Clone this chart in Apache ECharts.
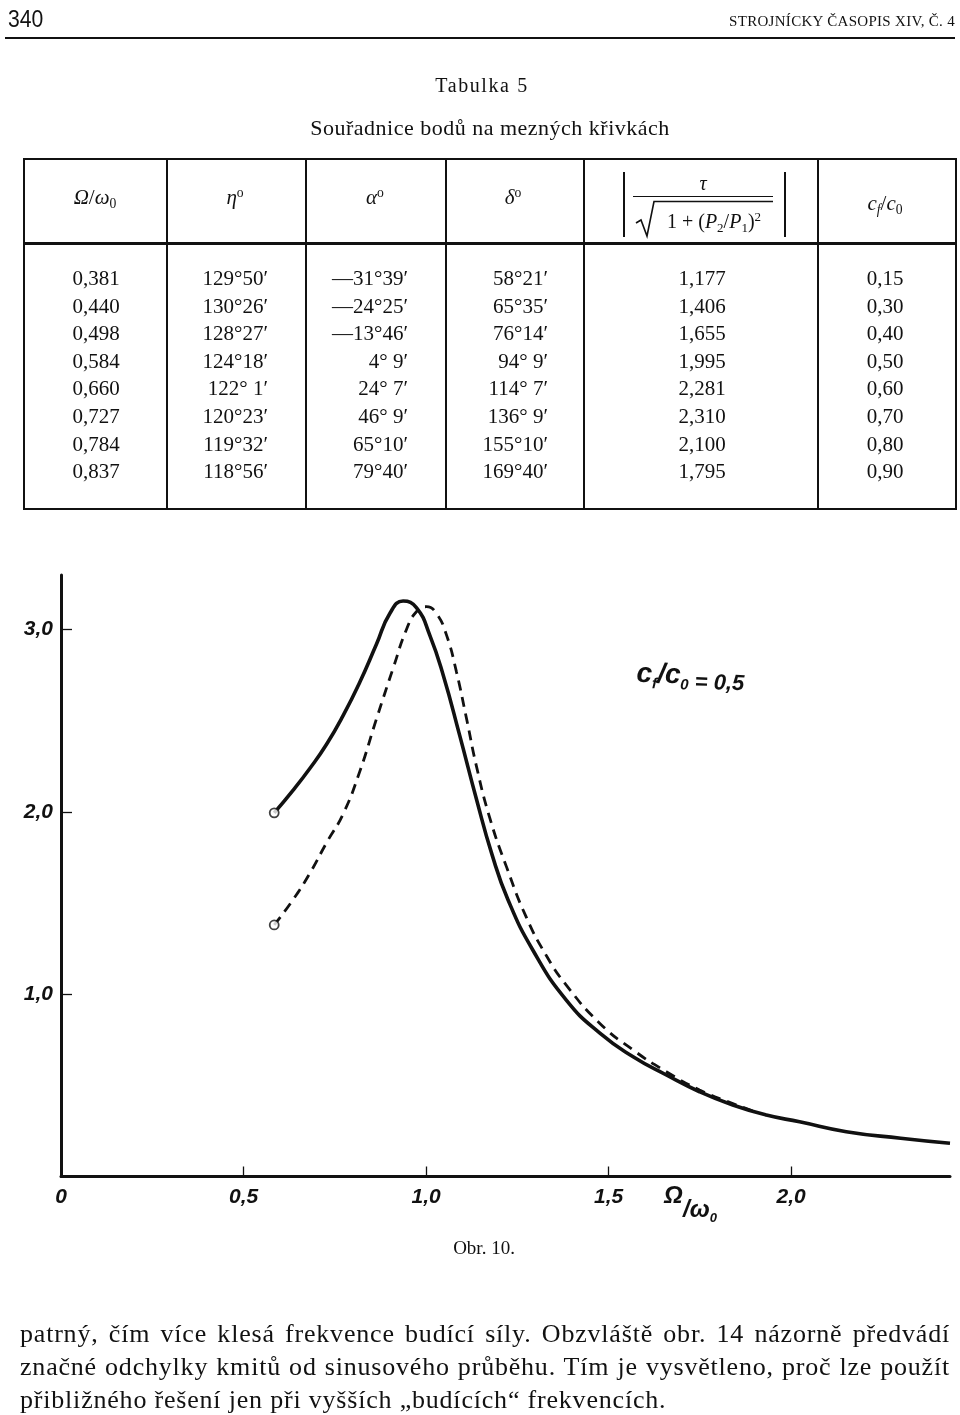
<!DOCTYPE html>
<html>
<head>
<meta charset="utf-8">
<script src="https://cdn.jsdelivr.net/npm/echarts@6/dist/echarts.min.js"></script>
<style>
  html, body { margin:0; padding:0; background:#fff; }
  body { width:960px; height:1415px; position:relative; overflow:hidden; font-family:"Liberation Serif", serif; color:#111; }
  #chart { position:absolute; left:0; top:0; width:960px; height:1415px; }
  #page { position:absolute; left:0; top:0; width:960px; height:1415px; }
  .t { position:absolute; white-space:pre; line-height:1; }
  .ln { position:absolute; background:#111; }
  sub { font-size:0.65em; vertical-align:-0.3em; }
  sup { font-size:0.65em; vertical-align:0.55em; }
  .para { position:absolute; left:20px; width:930px; font-size:26px; letter-spacing:0.8px; line-height:33px; white-space:nowrap; }
  .just { text-align:justify; text-align-last:justify; white-space:normal; }
</style>
</head>
<body>
<div id="chart"></div>
<div id="page"></div>
<script>
// ---------------- data ----------------
// Table 5
const tableOmega = ["0,381","0,440","0,498","0,584","0,660","0,727","0,784","0,837"];
const tableEta   = ["129°50′","130°26′","128°27′","124°18′","122° 1′","120°23′","119°32′","118°56′"];
const tableAlpha = ["—31°39′","—24°25′","—13°46′","4° 9′","24° 7′","46° 9′","65°10′","79°40′"];
const tableDelta = ["58°21′","65°35′","76°14′","94° 9′","114° 7′","136° 9′","155°10′","169°40′"];
const tableTau   = ["1,177","1,406","1,655","1,995","2,281","2,310","2,100","1,795"];
const tableCf    = ["0,15","0,30","0,40","0,50","0,60","0,70","0,80","0,90"];

// Fig. 10 curves (Ω/ω0 , amplitude)
const omegaSolid = [0.584,0.636,0.682,0.727,0.773,0.818,0.864,0.901,0.937,0.974,1.010,1.047,1.092,1.138,1.180,1.224,1.293,1.384,1.476,1.567,1.658,1.749,1.840,1.932,2.023,2.151,2.300,2.435];
const tauSolid   = [1.995,2.12,2.24,2.37,2.53,2.71,2.92,3.09,3.157,3.12,2.97,2.75,2.42,2.07,1.77,1.52,1.24,0.968,0.786,0.657,0.557,0.465,0.392,0.337,0.300,0.246,0.21,0.182];
const omegaDashed = [0.584,0.636,0.682,0.727,0.773,0.818,0.864,0.910,0.946,0.974,1.001,1.028,1.056,1.083,1.111,1.138,1.174,1.220,1.275,1.330,1.384,1.476,1.567,1.658,1.749,1.840,1.910];
const tauDashed   = [1.38,1.52,1.665,1.83,1.99,2.22,2.51,2.79,3.00,3.10,3.126,3.09,2.97,2.77,2.51,2.25,1.97,1.70,1.42,1.21,1.05,0.84,0.694,0.575,0.475,0.40,0.35];

// axis ticks
const xTickValues = [0, 0.5, 1.0, 1.5, 2.0];
const xTickLabels = ["0","0,5","1,0","1,5","2,0"];
const yTickValues = [1, 2, 3];
const yTickLabels = ["1,0","2,0","3,0"];

// text
const pageNumber = "340";
const journal = "STROJNÍCKY ČASOPIS XIV, Č. 4";
const tableTitle = "Tabulka 5";
const tableSubtitle = "Souřadnice bodů na mezných křivkách";
const caption = "Obr. 10.";
const paragraph = [
  "patrný, čím více klesá frekvence budící síly. Obzvláště obr. 14 názorně předvádí",
  "značné odchylky kmitů od sinusového průběhu. Tím je vysvětleno, proč lze použít",
  "přibližného řešení jen při vyšších „budících“ frekvencích."
];

// ---------------- page layout (HTML) ----------------
const page = document.getElementById('page');
function txt(html, x, y, anchor, style) {
  const d = document.createElement('div');
  d.className = 't';
  d.innerHTML = html;
  d.style.left = x + 'px';
  d.style.top = y + 'px';
  const tx = anchor === 'center' ? '-50%' : anchor === 'right' ? '-100%' : '0';
  d.style.transform = 'translate(' + tx + ',-50%)';
  if (style) d.style.cssText += style;
  page.appendChild(d);
  return d;
}
function line(x, y, w, h) {
  const d = document.createElement('div');
  d.className = 'ln';
  d.style.left = x + 'px'; d.style.top = y + 'px';
  d.style.width = w + 'px'; d.style.height = h + 'px';
  page.appendChild(d);
}

// running header
txt(pageNumber, 8, 19, 'left', 'font-family:"Liberation Sans",sans-serif;font-size:23px;transform:translate(0,-50%) scaleX(0.92);transform-origin:left center;');
txt(journal, 955, 21, 'right', 'font-size:15px;letter-spacing:0.3px;');
line(5, 37, 950, 2);

// table titles
txt(tableTitle, 482, 85, 'center', 'font-size:20px;letter-spacing:1.6px;');
txt(tableSubtitle, 490, 128, 'center', 'font-size:22px;letter-spacing:0.5px;');

// table frame
const T = { left:23, right:955, top:158, head:242, bottom:508 };
const colX = [166, 305, 445, 583, 817];
line(T.left, T.top, T.right - T.left, 2);
line(T.left, T.head, T.right - T.left, 2.5);
line(T.left, T.bottom, T.right - T.left, 2);
line(T.left, T.top, 2, T.bottom - T.top + 2);
line(T.right, T.top, 2, T.bottom - T.top + 2);
colX.forEach(x => line(x, T.top, 1.6, T.bottom - T.top));

// table header
const hs = 'font-size:21px;';
txt('<i>Ω</i>/<i>ω</i><sub>0</sub>', 95, 199, 'center', hs);
txt('<i>η</i><sup>o</sup>', 235, 197, 'center', hs);
txt('<i>α</i><sup>o</sup>', 375, 197, 'center', hs);
txt('<i>δ</i><sup>o</sup>', 513, 197, 'center', hs);
txt('<i>c<sub>f</sub></i>/<i>c</i><sub>0</sub>', 885, 205, 'center', hs);
// |τ / sqrt(1+(P2/P1)^2)|
line(623, 172, 1.6, 65);
line(784, 172, 1.6, 65);
txt('<i>τ</i>', 703, 183, 'center', 'font-size:20px;');
line(633, 196, 140, 1.4);
(function(){
  const ns = 'http://www.w3.org/2000/svg';
  const svg = document.createElementNS(ns, 'svg');
  svg.setAttribute('width', 960); svg.setAttribute('height', 260);
  svg.style.position = 'absolute'; svg.style.left = '0'; svg.style.top = '0';
  const p = document.createElementNS(ns, 'path');
  p.setAttribute('d', 'M636 223 L641 220 L647 236 L654 201.5 L773 201.5');
  p.setAttribute('fill', 'none'); p.setAttribute('stroke', '#111'); p.setAttribute('stroke-width', '1.6');
  svg.appendChild(p);
  page.appendChild(svg);
})();
txt('1 + (<i>P</i><sub>2</sub>/<i>P</i><sub>1</sub>)<sup>2</sup>', 714, 222, 'center', 'font-size:20px;');

// table body
const rowY0 = 278, rowStep = 27.6;
const bs = 'font-size:21px;';
for (let i = 0; i < tableOmega.length; i++) {
  const y = rowY0 + i * rowStep;
  txt(tableOmega[i], 96, y, 'center', bs);
  txt(tableEta[i], 268, y, 'right', bs);
  txt(tableAlpha[i], 408, y, 'right', bs);
  txt(tableDelta[i], 548, y, 'right', bs);
  txt(tableTau[i], 702, y, 'center', bs);
  txt(tableCf[i], 885, y, 'center', bs);
}

// caption + paragraph
txt(caption, 484, 1247, 'center', 'font-size:19px;');
paragraph.forEach((s, i) => {
  const d = document.createElement('div');
  d.className = 'para' + (i < paragraph.length - 1 ? ' just' : '');
  d.textContent = s;
  d.style.top = (1317 + i * 33) + 'px';
  page.appendChild(d);
});

// ---------------- chart (ECharts) ----------------
const chart = echarts.init(document.getElementById('chart'), null, { renderer: 'canvas' });
const pair = (xs, ys) => xs.map((x, i) => [x, ys[i]]);
const findLabel = (vals, labs) => v => {
  for (let i = 0; i < vals.length; i++) if (Math.abs(vals[i] - v) < 1e-9) return labs[i];
  return '';
};
const labelFont = { color:'#111', fontStyle:'italic', fontWeight:'bold', fontSize:21, fontFamily:'"Liberation Sans", sans-serif' };

chart.setOption({
  animation: false,
  backgroundColor: 'transparent',
  grid: { left: 61, right: 10, top: 575, bottom: 238.5, outerBoundsMode: 'none' },
  xAxis: {
    type: 'value', min: 0, max: 2.435, interval: 0.5,
    axisLine: { show: true, onZero: true, lineStyle: { color: '#111', width: 3 } },
    axisTick: { show: true, inside: true, length: 10, lineStyle: { color: '#111', width: 1.3 },
                customValues: xTickValues.filter(v => v > 0) },
    axisLabel: Object.assign({ customValues: xTickValues, margin: 10,
                formatter: findLabel(xTickValues, xTickLabels) }, labelFont),
    splitLine: { show: false }
  },
  yAxis: {
    type: 'value', min: 0, max: 3.3, interval: 1,
    axisLine: { show: true, lineStyle: { color: '#111', width: 3 } },
    axisTick: { show: true, inside: true, length: 11, lineStyle: { color: '#111', width: 1.3 },
                customValues: yTickValues },
    axisLabel: Object.assign({ customValues: yTickValues, margin: 8,
                formatter: findLabel(yTickValues, yTickLabels) }, labelFont),
    splitLine: { show: false }
  },
  series: [
    {
      type: 'line', name: 'solid', data: pair(omegaSolid, tauSolid),
      showSymbol: false, smooth: 0.5,
      lineStyle: { color: '#111', width: 3.6 }, z: 3
    },
    {
      type: 'line', name: 'dashed', data: pair(omegaDashed, tauDashed),
      showSymbol: false, smooth: 0.5,
      lineStyle: { color: '#111', width: 2.8, type: [10, 7] }, z: 2
    },
    {
      type: 'scatter', name: 'start',
      data: [[omegaSolid[0], tauSolid[0]], [omegaDashed[0], tauDashed[0]]],
      symbol: 'circle', symbolSize: 9,
      itemStyle: { color: '#fff', borderColor: '#111', borderWidth: 1.8 }, z: 5
    }
  ],
  graphic: [
    {
      type: 'text', left: 636, top: 660, rotation: -0.04,
      style: {
        text: '{a|c}{s|f}{a|/c}{s|0}{b| = 0,5}',
        rich: {
          a: { fontSize: 28, fontStyle: 'italic', fontWeight: 'bold', fontFamily: '"Liberation Sans", sans-serif', fill: '#111', lineHeight: 34, verticalAlign: 'middle' },
          s: { fontSize: 15, fontStyle: 'italic', fontWeight: 'bold', fontFamily: '"Liberation Sans", sans-serif', fill: '#111', lineHeight: 34, verticalAlign: 'bottom' },
          b: { fontSize: 22, fontStyle: 'italic', fontWeight: 'bold', fontFamily: '"Liberation Sans", sans-serif', fill: '#111', lineHeight: 34, verticalAlign: 'bottom' }
        }
      }
    },
    {
      type: 'text', left: 664, top: 1184,
      style: { text: 'Ω', fontSize: 24, fontStyle: 'italic', fontWeight: 'bold', fontFamily: '"Liberation Sans", sans-serif', fill: '#111' }
    },
    {
      type: 'text', left: 683, top: 1198,
      style: {
        text: '{a|/ω}{s|0}',
        rich: {
          a: { fontSize: 24, fontStyle: 'italic', fontWeight: 'bold', fontFamily: '"Liberation Sans", sans-serif', fill: '#111', lineHeight: 30, verticalAlign: 'middle' },
          s: { fontSize: 13, fontStyle: 'italic', fontWeight: 'bold', fontFamily: '"Liberation Sans", sans-serif', fill: '#111', lineHeight: 30, verticalAlign: 'bottom' }
        }
      }
    }
  ]
});
</script>
</body>
</html>
